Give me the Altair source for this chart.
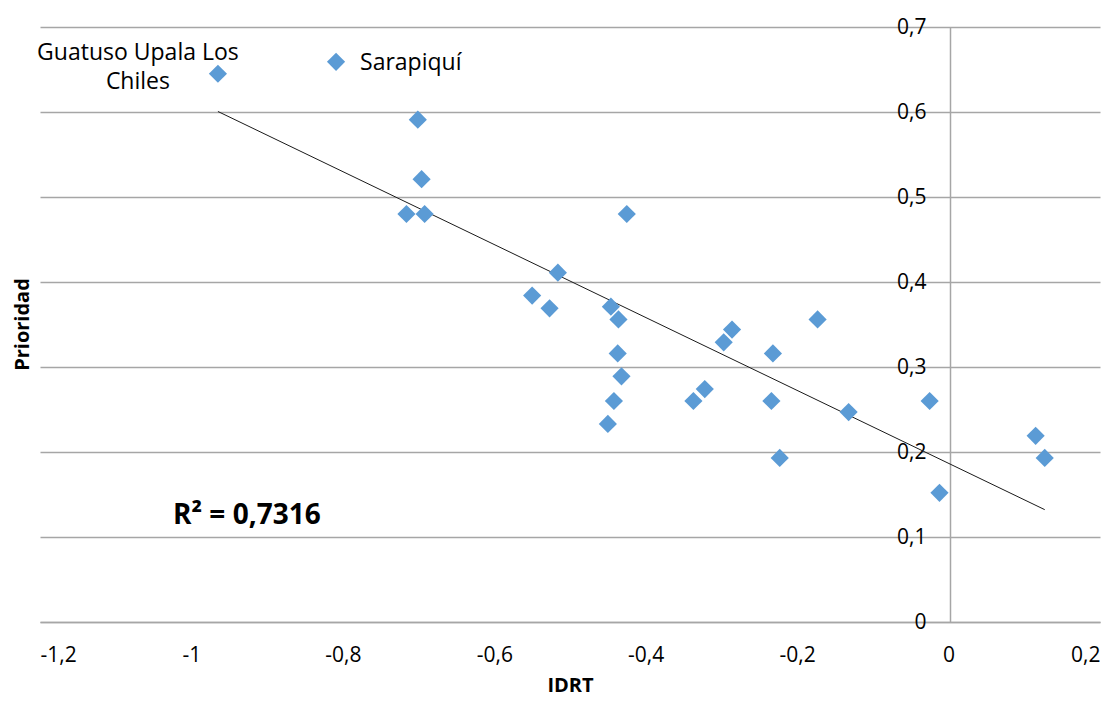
import altair as alt
import pandas as pd

idrt = [-0.965, -0.809, -0.701, -0.696, -0.716, -0.692, -0.425, -0.516, -0.550, -0.527,
        -0.446, -0.436, -0.437, -0.432, -0.442, -0.450, -0.337, -0.322, -0.297, -0.286,
        -0.232, -0.234, -0.223, -0.173, -0.132, -0.025, -0.012, 0.115, 0.127]
prioridad = [0.645, 0.659, 0.591, 0.521, 0.480, 0.480, 0.480, 0.411, 0.384, 0.369,
             0.371, 0.356, 0.316, 0.289, 0.260, 0.233, 0.260, 0.274, 0.329, 0.344,
             0.316, 0.260, 0.193, 0.356, 0.247, 0.260, 0.152, 0.219, 0.193]
etiquetas = ["Guatuso Upala Los\nChiles", "Sarapiquí"] + [""] * 27
r2_text = "R² = 0,7316"
x_ticks = [-1.2, -1.0, -0.8, -0.6, -0.4, -0.2, 0.0, 0.2]
y_ticks = [0.0, 0.1, 0.2, 0.3, 0.4, 0.5, 0.6, 0.7]

df = pd.DataFrame({"idrt": idrt, "prioridad": prioridad, "etiqueta": etiquetas})

FONT = "Open Sans"
GRID = "#A6A6A6"
BLUE = "#5B9BD5"

label_expr = "(datum.value < 0 ? '-' : '') + replace(format(abs(datum.value), '~g'), '.', ',')"

xenc = alt.X("idrt:Q", scale=alt.Scale(domain=[-1.2, 0.2], nice=False),
             axis=alt.Axis(values=x_ticks, labelExpr=label_expr, grid=False, ticks=False,
                           domainColor=GRID, domainWidth=1.5, labelFont=FONT, labelFontSize=21,
                           labelColor="#000000", labelPadding=22, title="IDRT",
                           titleFont=FONT, titleFontSize=20, titleFontWeight="bold",
                           titleColor="#000000", titlePadding=10))
yenc = alt.Y("prioridad:Q", scale=alt.Scale(domain=[0, 0.7], nice=False),
             axis=alt.Axis(values=y_ticks, labelExpr=label_expr, grid=True, gridColor=GRID,
                           gridWidth=1.5, ticks=False, domainColor=GRID, domainWidth=1.5,
                           offset=-910, labelFont=FONT, labelFontSize=21, labelColor="#000000",
                           labelPadding=24, title=None))

base = alt.Chart(df)

points = base.mark_point(shape="diamond", filled=True, size=330, opacity=1,
                         color=BLUE).encode(x=xenc, y=yenc)

trend = base.transform_regression("idrt", "prioridad").mark_line(
    color="#1a1a1a", strokeWidth=1).encode(x="idrt:Q", y="prioridad:Q")

label_left = base.transform_filter("indexof(datum.etiqueta, 'Guatuso') >= 0").mark_text(
    font=FONT, fontSize=23, align="center", baseline="middle",
    dx=-80, dy=-21, lineBreak="\n", lineHeight=29, color="#000000").encode(
    x="idrt:Q", y="prioridad:Q", text="etiqueta:N")

label_right = base.transform_filter("datum.etiqueta == 'Sarapiquí'").mark_text(
    font=FONT, fontSize=23, align="left", baseline="middle",
    dx=24, dy=1, color="#000000").encode(
    x="idrt:Q", y="prioridad:Q", text="etiqueta:N")

r2 = alt.Chart(pd.DataFrame({"t": [r2_text]})).mark_text(
    font=FONT, fontSize=28, fontWeight="bold", align="left", baseline="middle", color="#000000"
).encode(x=alt.value(133), y=alt.value(489), text="t:N")

ytitle = alt.Chart(pd.DataFrame({"t": ["Prioridad"]})).mark_text(
    font=FONT, fontSize=20, fontWeight="bold", angle=270, align="center", baseline="middle",
    color="#000000"
).encode(x=alt.value(-17), y=alt.value(297.5), text="t:N")

chart = alt.layer(trend, points, label_left, label_right, r2, ytitle).properties(
    width=1060, height=595,
    autosize=alt.AutoSizeParams(type="none"),
    padding={"left": 32, "top": 19, "right": 12, "bottom": 76},
).configure_view(stroke=None)

chart.save("out.html", embed_options={"renderer": "svg", "actions": False})
